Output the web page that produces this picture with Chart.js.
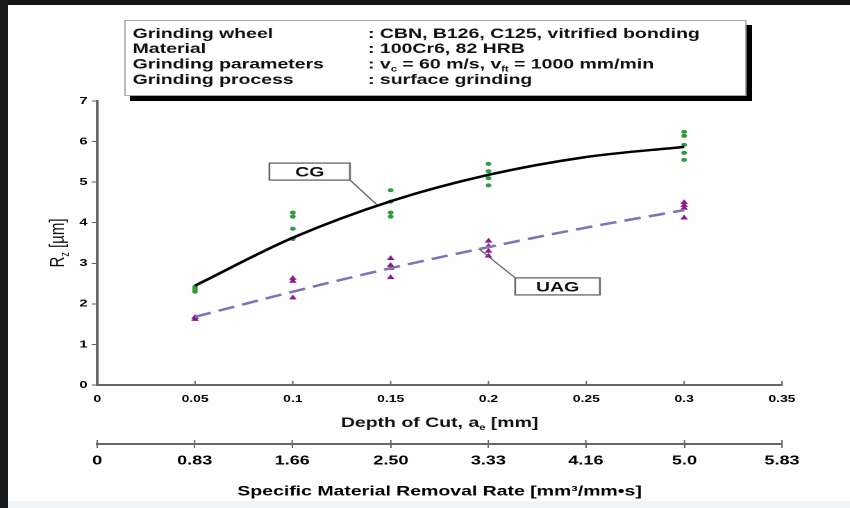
<!DOCTYPE html>
<html>
<head>
<meta charset="utf-8">
<script src="https://cdn.jsdelivr.net/npm/chart.js@4.4.1/dist/chart.umd.min.js"></script>
<style>
  html, body { margin: 0; padding: 0; background: #fff; }
  #wrap { position: relative; width: 850px; height: 508px; overflow: hidden; background: #fefefe; }
  /* the source picture is stretched sideways, so the chart is drawn narrow and widened */
  #chart { position: absolute; left: 0; top: 0; transform-origin: 0 0; transform: scaleX(1.3889); }
  .frame_top { position: absolute; left: 0; top: 0; width: 850px; height: 5px; background: #151515; }
  .frame_left { position: absolute; left: 0; top: 0; width: 8px; height: 508px; background: #1b1b1b; }
  .frame_bottom { position: absolute; left: 8px; bottom: 0; width: 842px; height: 7px; background: #eef4f7; }
</style>
</head>
<body>
<div id="wrap">
  <canvas id="chart" width="612" height="508"></canvas>
  <div class="frame_top"></div>
  <div class="frame_left"></div>
  <div class="frame_bottom"></div>
</div>
<script>
// -- DATA -- //
const depth_ticks = [0, 0.05, 0.1, 0.15, 0.2, 0.25, 0.3, 0.35];
const depth_labels = ["0", "0.05", "0.1", "0.15", "0.2", "0.25", "0.3", "0.35"];
const rate_ticks = [0, 0.83, 1.66, 2.50, 3.33, 4.16, 5.0, 5.83];
const rate_labels = ["0", "0.83", "1.66", "2.50", "3.33", "4.16", "5.0", "5.83"];

// measured points
const cg_depth = [0.05, 0.05, 0.05, 0.1, 0.1, 0.1, 0.1, 0.15, 0.15, 0.15, 0.15, 0.2, 0.2, 0.2, 0.2, 0.3, 0.3, 0.3, 0.3, 0.3];
const cg_rz    = [2.42, 2.36, 2.30, 4.25, 4.15, 3.85, 3.60, 4.80, 4.52, 4.25, 4.15, 5.45, 5.27, 5.10, 4.92, 6.24, 6.14, 5.92, 5.72, 5.55];
const uag_depth = [0.05, 0.05, 0.1, 0.1, 0.1, 0.15, 0.15, 0.15, 0.15, 0.2, 0.2, 0.2, 0.2, 0.3, 0.3, 0.3, 0.3];
const uag_rz    = [1.67, 1.62, 2.63, 2.56, 2.15, 3.12, 2.95, 2.88, 2.65, 3.55, 3.42, 3.30, 3.18, 4.50, 4.43, 4.36, 4.12];

// trend lines
const fit_depth = [0.05, 0.1, 0.15, 0.2, 0.25, 0.3];
const cg_fit  = [2.45, 3.63, 4.53, 5.18, 5.62, 5.87];
const uag_fit = [1.68, 2.30, 2.88, 3.40, 3.88, 4.31];

// header text box
const info_keys = ["Grinding wheel", "Material", "Grinding parameters", "Grinding process"];
const info_values = [
    [[": CBN, B126, C125, vitrified bonding", 0]],
    [[": 100Cr6, 82 HRB", 0]],
    [[": v", 0], ["c", 1], [" = 60 m/s, v", 0], ["ft", 1], [" = 1000 mm/min", 0]],
    [[": surface grinding", 0]]
];

// axis titles with subscripts
const x_title = [["Depth of Cut, a", 0], ["e", 1], [" [mm]", 0]];
const y_title = [["R", 0], ["z", 1], [" [\u00b5m]", 0]];

// -- HELPERS -- //
const FONT = '"Liberation Sans", Arial, sans-serif';
const AXIS_GREY = '#666';

function pts(xs, ys) {
    return xs.map((x, i) => ({ x: x, y: ys[i] }));
}

function runsWidth(ctx, runs, size, weight) {
    let w = 0;
    for (const [txt, sub] of runs) {
        ctx.font = weight + ' ' + (sub ? Math.round(size * 0.6) : size) + 'px ' + FONT;
        w += ctx.measureText(txt).width;
    }
    return w;
}

function drawRuns(ctx, runs, x, y, size, weight) {
    let cx = x;
    for (const [txt, sub] of runs) {
        ctx.font = weight + ' ' + (sub ? Math.round(size * 0.6) : size) + 'px ' + FONT;
        ctx.fillText(txt, cx, sub ? y + size * 0.22 : y);
        cx += ctx.measureText(txt).width;
    }
}

// callouts in data units
const callouts = [
    { text: "CG", at: [0.1086, 5.26], w: 58, h: 17, anchor: [0.143, 4.44], corner: "br" },
    { text: "UAG", at: [0.2353, 2.43], w: 61, h: 17, anchor: [0.195, 3.36], corner: "tl" }
];

const decor = {
    id: 'decor',
    afterDatasetsDraw(chart) {
        const ctx = chart.ctx;
        const xs = chart.scales.x, ys = chart.scales.y;
        ctx.save();
        for (const c of callouts) {
            const cx = xs.getPixelForValue(c.at[0]);
            const cy = ys.getPixelForValue(c.at[1]);
            const l = cx - c.w / 2, t = cy - c.h / 2;
            const ax = xs.getPixelForValue(c.anchor[0]);
            const ay = ys.getPixelForValue(c.anchor[1]);
            const sx = c.corner === "br" ? l + c.w : l;
            const sy = c.corner === "br" ? t + c.h : t;
            ctx.strokeStyle = '#555';
            ctx.lineWidth = 1;
            ctx.beginPath();
            ctx.moveTo(sx, sy);
            ctx.lineTo(ax, ay);
            ctx.stroke();
            ctx.fillStyle = '#fff';
            ctx.fillRect(l, t, c.w, c.h);
            ctx.strokeStyle = '#666';
            ctx.lineWidth = 1.3;
            ctx.strokeRect(l, t, c.w, c.h);
            ctx.fillStyle = '#111';
            ctx.font = 'bold 14px ' + FONT;
            ctx.textAlign = 'center';
            ctx.textBaseline = 'middle';
            ctx.fillText(c.text, cx, cy + 1);
        }
        ctx.restore();
    },
    afterDraw(chart) {
        const ctx = chart.ctx;
        const xs = chart.scales.x, x2 = chart.scales.x2, ys = chart.scales.y;
        ctx.save();

        // inward tick marks on the depth axis
        ctx.strokeStyle = AXIS_GREY;
        ctx.lineWidth = 1;
        for (const v of depth_ticks) {
            const px = xs.getPixelForValue(v);
            ctx.beginPath();
            ctx.moveTo(px, xs.top);
            ctx.lineTo(px, xs.top - 4);
            ctx.stroke();
        }
        // upper half of the removal rate ticks
        for (const v of rate_ticks) {
            const px = x2.getPixelForValue(v);
            ctx.beginPath();
            ctx.moveTo(px, x2.top);
            ctx.lineTo(px, x2.top - 4);
            ctx.stroke();
        }

        ctx.fillStyle = '#111';
        ctx.textAlign = 'left';
        ctx.textBaseline = 'alphabetic';

        // x axis title
        const xw = runsWidth(ctx, x_title, 14, 'bold');
        drawRuns(ctx, x_title, (xs.left + xs.right) / 2 - xw / 2, 427, 14, 'bold');

        // y axis title, rotated
        ctx.translate(46, (ys.top + ys.bottom) / 2);
        ctx.rotate(-Math.PI / 2);
        const yw = runsWidth(ctx, y_title, 15, 'normal');
        drawRuns(ctx, y_title, -yw / 2, 0, 15, 'normal');
        ctx.setTransform(chart.currentDevicePixelRatio, 0, 0, chart.currentDevicePixelRatio, 0, 0);

        // header box with shadow
        const bl = 89.5, bt = 20, bw = 448, bh = 76;
        ctx.fillStyle = '#000';
        ctx.fillRect(bl + 4, bt + 5, bw, bh);
        ctx.fillStyle = '#fff';
        ctx.fillRect(bl, bt, bw, bh);
        ctx.strokeStyle = '#aaa';
        ctx.lineWidth = 1;
        ctx.strokeRect(bl + 0.5, bt + 0.5, bw - 1, bh - 1);

        ctx.fillStyle = '#111';
        const base = [38, 53, 68.5, 84];
        for (let i = 0; i < info_keys.length; i++) {
            drawRuns(ctx, [[info_keys[i], 0]], 95.5, base[i], 14, 'bold');
            drawRuns(ctx, info_values[i], 265, base[i], 14, 'bold');
        }
        ctx.restore();
    }
};

// -- CHART -- //
Chart.defaults.font.family = FONT;
Chart.defaults.color = '#000';

const chart_ctx = document.getElementById("chart").getContext("2d");

let chart = new Chart(chart_ctx, {
    type: 'scatter',
    data: {
        datasets: [
            {
                type: 'line', label: 'CG fit', data: pts(fit_depth, cg_fit),
                borderColor: '#000', borderWidth: 2.5, pointRadius: 0,
                cubicInterpolationMode: 'monotone', fill: false
            },
            {
                type: 'line', label: 'UAG fit', data: pts(fit_depth, uag_fit),
                borderColor: '#7d75b5', borderWidth: 2.5, borderDash: [12, 6], pointRadius: 0,
                cubicInterpolationMode: 'monotone', fill: false
            },
            {
                label: 'CG', data: pts(cg_depth, cg_rz),
                pointStyle: 'circle', pointRadius: 2, borderWidth: 0,
                backgroundColor: '#2e9b3e', borderColor: '#2e9b3e'
            },
            {
                label: 'UAG', data: pts(uag_depth, uag_rz),
                pointStyle: 'triangle', pointRadius: 3.2, borderWidth: 0,
                backgroundColor: '#8c1a8c', borderColor: '#8c1a8c'
            }
        ]
    },
    options: {
        responsive: false,
        devicePixelRatio: 2,
        animation: false,
        layout: { padding: { top: 101, left: 0, right: 49, bottom: 0 } },
        plugins: { legend: { display: false }, tooltip: { enabled: false } },
        scales: {
            x: {
                type: 'linear', position: 'bottom', weight: 0,
                min: 0, max: 0.35,
                afterBuildTicks: (s) => { s.ticks = depth_ticks.map(v => ({ value: v })); },
                afterFit: (s) => { s.height = 59; },
                border: { display: true, color: AXIS_GREY, width: 2 },
                grid: { display: true, drawOnChartArea: false, drawTicks: false },
                ticks: {
                    padding: 8, maxRotation: 0, autoSkip: false,
                    font: { size: 10, weight: 'bold' },
                    callback: (v, i) => depth_labels[i]
                }
            },
            y: {
                min: 0, max: 7,
                afterFit: (s) => { s.width = 70; },
                border: { display: true, color: AXIS_GREY, width: 2 },
                grid: { display: true, drawOnChartArea: false, drawTicks: true, tickLength: 4, color: AXIS_GREY },
                ticks: { stepSize: 1, padding: 3, font: { size: 10.5, weight: 'bold' } }
            },
            x2: {
                type: 'linear', position: 'bottom', weight: 1,
                min: 0, max: 5.83,
                afterBuildTicks: (s) => { s.ticks = rate_ticks.map(v => ({ value: v })); },
                afterFit: (s) => { s.height = 64; },
                border: { display: true, color: AXIS_GREY, width: 2 },
                grid: { display: true, drawOnChartArea: false, drawTicks: true, tickLength: 4, color: AXIS_GREY },
                ticks: {
                    padding: 5, maxRotation: 0, autoSkip: false,
                    font: { size: 13, weight: 'bold' },
                    callback: (v, i) => rate_labels[i]
                },
                title: {
                    display: true, text: 'Specific Material Removal Rate [mm\u00b3/mm\u2022s]',
                    font: { size: 14, weight: 'bold' }, padding: { top: 0, bottom: 8 }
                }
            }
        }
    },
    plugins: [decor]
});
</script>
</body>
</html>
